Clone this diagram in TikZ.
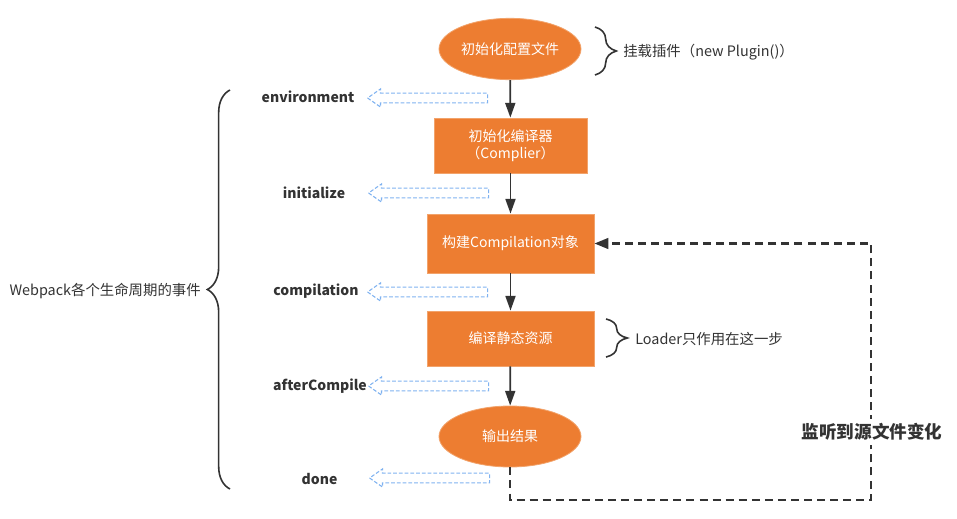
\documentclass[tikz,border=0pt]{standalone}
\usepackage{fontspec}
\setmainfont{Noto Sans CJK SC}
\usetikzlibrary{arrows.meta,shapes.geometric,shapes.arrows,decorations.pathreplacing}
\definecolor{orng}{HTML}{ED7D31}
\definecolor{orngline}{HTML}{F2A36B}
\definecolor{dgray}{HTML}{333333}
\definecolor{lblue}{HTML}{7FB2F0}
\begin{document}
\begin{tikzpicture}[x=0.75pt,y=-0.75pt,
  base/.style={fill=orng, draw=orngline, line width=0.6pt, text=white, align=center, inner sep=0pt,
    font=\fontsize{10.5}{12.75}\selectfont},
  proc/.style={base, rectangle},
  term/.style={base, ellipse, minimum width=106.5pt, minimum height=46pt},
  flow/.style={draw=dgray, line width=1.3pt, -{Triangle[length=11pt,width=7.5pt]}},
  evt/.style={text=dgray, inner sep=0pt, font=\bfseries\fontsize{10.5}{12}\selectfont},
  note/.style={text=dgray, inner sep=0pt, font=\fontsize{10.8}{12}\selectfont},
  hook/.style={single arrow, draw=lblue, line width=0.8pt, dash pattern=on 2.8pt off 1.5pt,
    shape border rotate=180, minimum height=90pt, minimum width=0pt, inner xsep=0pt, inner ysep=3.2pt,
    single arrow head extend=3.2pt, single arrow tip angle=70},
  brc/.style={draw=dgray, line width=1.2pt, decorate},
  fb/.style={draw=dgray, line width=1.8pt, dash pattern=on 6pt off 3.8pt,
    -{Triangle[length=10.5pt,width=8pt]}}
]
\useasboundingbox (0,0) rectangle (957,518);

% main flow
\node[term] (cfg) at (510,49) {初始化配置文件};
\node[proc, minimum width=114.75pt, minimum height=41.25pt] (comp) at (510.5,145.5) {初始化编译器\\（Complier）};
\node[proc, minimum width=125.25pt, minimum height=44.25pt] (build) at (510.5,243.5) {构建Compilation对象};
\node[proc, minimum width=125.25pt, minimum height=41.25pt] (stat) at (510.5,338.5) {编译静态资源};
\node[term, minimum height=45.75pt] (out) at (510,436.5) {输出结果};

\draw[flow] (cfg) -- (comp);
\draw[flow] (comp) -- (build);
\draw[flow] (build) -- (stat);
\draw[flow] (stat) -- (out);

% right braces and notes
\node[note, anchor=west] (plug) at (623,52) {挂载插件（new Plugin()）};
\draw[brc, decoration={brace, amplitude=16pt}] (595,27) -- (595,75);
\node[note, anchor=west] (loader) at (635,339) {Loader只作用在这一步};
\draw[brc, decoration={brace, amplitude=16pt}] (606,319) -- (606,357);

% feedback loop
\coordinate (fb1) at (510,500);
\coordinate (fb2) at (871,500);
\coordinate (fb3) at (871,243.5);
\draw[fb] (out.south) -- (fb1) -- (fb2) -- (fb3) -- (build.east);
\node[fill=white, text=dgray, inner xsep=1pt, inner ysep=3pt, font=\bfseries\fontsize{13.2}{15}\selectfont] (watch) at (872,432) {监听到源文件变化};

% lifecycle events
\node[evt] (e1) at (308,97) {environment};
\node[evt] (e2) at (314,193) {initialize};
\node[evt] (e3) at (316,291) {compilation};
\node[evt] (e4) at (320,386) {afterCompile};
\node[evt] (e5) at (319.5,479) {done};

\node[hook] (h1) at (431,98) {};
\node[hook] (h2) at (432,193) {};
\node[hook] (h3) at (431,292) {};
\node[hook] (h4) at (432,386) {};
\node[hook] (h5) at (433,478) {};

% left brace
\draw[brc, decoration={brace, amplitude=17pt}] (230,489) -- (230,90);
\node[note, anchor=east] (wp) at (201,291) {Webpack各个生命周期的事件};
\end{tikzpicture}
\end{document}
